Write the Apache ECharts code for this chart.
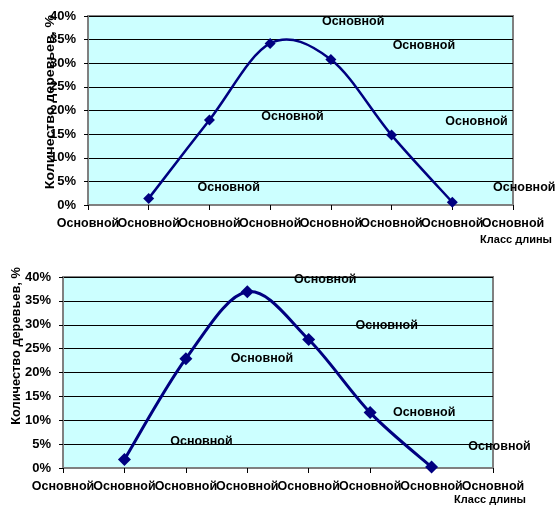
<!DOCTYPE html>
<html>
<head>
<meta charset="utf-8">
<script src="https://cdn.jsdelivr.net/npm/echarts@6/dist/echarts.min.js"></script>
<style>
  html, body { margin: 0; padding: 0; background: #fff; }
  #chart { width: 558px; height: 506px; }
</style>
</head>
<body>
<div id="chart"></div>
<script>
// Length classes along the x axis (one tick per class)
const categories = ['Основной', 'Основной', 'Основной', 'Основной', 'Основной', 'Основной', 'Основной', 'Основной'];

// Share of trees per length class, % (first panel)
const topValues = ['-', 1.4, 18.0, 34.2, 30.8, 14.8, 0.6, '-'];
// Share of trees per length class, % (second panel)
const bottomValues = ['-', 1.8, 22.9, 36.9, 26.9, 11.6, 0.2, '-'];

// Data label texts for the points
const pointLabels = ['', 'Основной', 'Основной', 'Основной', 'Основной', 'Основной', 'Основной', ''];

// Y axis ticks, %
const yMin = 0, yMax = 40, yStep = 5;

const yTitle = 'Количество деревьев, %';
const xTitle = 'Класс длины';

// Label offsets relative to each marker (layout only)
const topLabelOffsets = [[0, 0], [80, -11], [83, -3], [83, -22], [93, -14], [85, -14], [72, -15], [0, 0]];
const bottomLabelOffsets = [[0, 0], [77, -18], [76, 0], [78, -12], [78, -14], [54, 0], [68, -20], [0, 0]];

const FONT = 'Liberation Sans, Arial, sans-serif';
const NAVY = '#000080';

function isNum(v) { return typeof v === 'number'; }

function xAxisFor(gridIndex) {
  return {
    type: 'category',
    gridIndex: gridIndex,
    data: categories,
    boundaryGap: false,
    axisLine: { lineStyle: { color: '#808080', width: 2 } },
    axisTick: { show: true, length: 5, interval: 0, lineStyle: { color: '#000', width: 1 } },
    axisLabel: { interval: 0, margin: 12, color: '#000', fontFamily: FONT, fontWeight: 'bold', fontSize: 12.5 },
    splitLine: { show: false }
  };
}

function yAxisFor(gridIndex) {
  return {
    type: 'value',
    gridIndex: gridIndex,
    min: yMin, max: yMax, interval: yStep,
    axisLine: { show: true, lineStyle: { color: '#808080', width: 2 } },
    axisTick: { show: true, length: 4, lineStyle: { color: '#000', width: 1 } },
    axisLabel: { formatter: '{value}%', margin: 12, color: '#000', fontFamily: FONT, fontWeight: 'bold', fontSize: 13 },
    splitLine: { show: true, lineStyle: { color: '#000', width: 1 } }
  };
}

// Smooth curve drawn as cubic Bezier segments (Catmull-Rom tangents),
// one segment per data item, positioned through the axis scales.
function curveSeries(idx, values, lineWidth) {
  return {
    type: 'custom',
    xAxisIndex: idx, yAxisIndex: idx,
    data: values.map((v, i) => [i, isNum(v) ? v : 0]),
    silent: true,
    z: 2,
    renderItem: function (params, api) {
      const i = params.dataIndex;
      if (!isNum(values[i]) || !isNum(values[i + 1])) return null;
      const pt = k => api.coord([k, values[k]]);
      const p1 = pt(i), p2 = pt(i + 1);
      const p0 = isNum(values[i - 1]) ? pt(i - 1) : p1;
      const p3 = isNum(values[i + 2]) ? pt(i + 2) : p2;
      const c1 = [p1[0] + (p2[0] - p0[0]) / 6, p1[1] + (p2[1] - p0[1]) / 6];
      const c2 = [p2[0] - (p3[0] - p1[0]) / 6, p2[1] - (p3[1] - p1[1]) / 6];
      return {
        type: 'bezierCurve',
        shape: { x1: p1[0], y1: p1[1], cpx1: c1[0], cpy1: c1[1], cpx2: c2[0], cpy2: c2[1], x2: p2[0], y2: p2[1] },
        style: { stroke: NAVY, lineWidth: lineWidth, fill: null }
      };
    }
  };
}

// Markers and data labels
function markerSeries(idx, values, offsets, symbolSize) {
  return {
    type: 'line',
    xAxisIndex: idx, yAxisIndex: idx,
    symbol: 'diamond',
    symbolSize: symbolSize,
    showAllSymbol: true,
    lineStyle: { width: 0, opacity: 0 },
    itemStyle: { color: NAVY },
    label: {
      show: true,
      position: 'inside',
      color: '#000', fontFamily: FONT, fontWeight: 'bold', fontSize: 12.5,
      formatter: p => pointLabels[p.dataIndex]
    },
    data: values.map((v, i) => ({ value: v, label: { offset: offsets[i] } })),
    z: 3
  };
}

const chart = echarts.init(document.getElementById('chart'), null, { renderer: 'canvas' });

chart.setOption({
  backgroundColor: '#fff',
  animation: false,
  grid: [
    { left: 88, top: 16, width: 425, height: 189, show: true, backgroundColor: '#CCFFFF', borderColor: '#808080', borderWidth: 2 },
    { left: 63, top: 277, width: 430, height: 191, show: true, backgroundColor: '#CCFFFF', borderColor: '#808080', borderWidth: 2 }
  ],
  xAxis: [xAxisFor(0), xAxisFor(1)],
  yAxis: [yAxisFor(0), yAxisFor(1)],
  series: [
    curveSeries(0, topValues, 2.5),
    markerSeries(0, topValues, topLabelOffsets, 11),
    curveSeries(1, bottomValues, 3),
    markerSeries(1, bottomValues, bottomLabelOffsets, 13)
  ],
  graphic: [
    { type: 'text', x: 51, y: 102, rotation: Math.PI / 2, scaleX: 1.18,
      style: { text: yTitle, fill: '#000', font: 'bold 12px ' + FONT, textAlign: 'center', textVerticalAlign: 'middle' } },
    { type: 'text', x: 16, y: 346, rotation: Math.PI / 2,
      style: { text: yTitle, fill: '#000', font: 'bold 12.8px ' + FONT, textAlign: 'center', textVerticalAlign: 'middle' } },
    { type: 'text', x: 552, y: 240,
      style: { text: xTitle, fill: '#000', font: 'bold 11px ' + FONT, textAlign: 'right', textVerticalAlign: 'middle' } },
    { type: 'text', x: 526, y: 500,
      style: { text: xTitle, fill: '#000', font: 'bold 11px ' + FONT, textAlign: 'right', textVerticalAlign: 'middle' } }
  ]
});
</script>
</body>
</html>
